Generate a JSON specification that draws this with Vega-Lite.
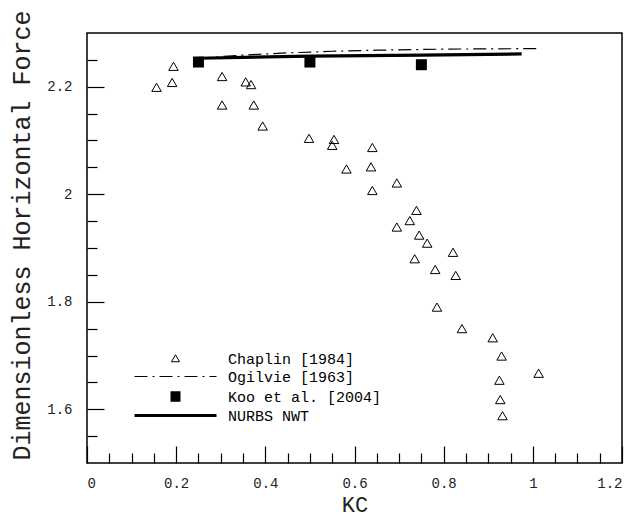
{
  "$schema": "https://vega.github.io/schema/vega-lite/v6.json",
  "autosize": "none",
  "width": 535,
  "height": 430,
  "padding": {"left": 87, "top": 33, "right": 13, "bottom": 56},
  "background": "white",
  "config": {
    "view": {"stroke": "black", "strokeWidth": 1.5},
    "axis": {"labelFont": "Liberation Mono", "labelFontSize": 14, "labelColor": "#222", "titleFont": "Liberation Mono", "titleFontSize": 25, "titleFontWeight": "normal", "titleColor": "#222", "grid": false, "domain": false, "tickColor": "black", "tickWidth": 1.2}
  },
  "data": {"values": [
    {"s": "Chaplin [1984]", "kc": 0.156, "f": 2.199},
    {"s": "Chaplin [1984]", "kc": 0.194, "f": 2.238},
    {"s": "Chaplin [1984]", "kc": 0.191, "f": 2.208},
    {"s": "Chaplin [1984]", "kc": 0.303, "f": 2.219},
    {"s": "Chaplin [1984]", "kc": 0.303, "f": 2.166},
    {"s": "Chaplin [1984]", "kc": 0.356, "f": 2.209},
    {"s": "Chaplin [1984]", "kc": 0.368, "f": 2.204},
    {"s": "Chaplin [1984]", "kc": 0.374, "f": 2.166},
    {"s": "Chaplin [1984]", "kc": 0.394, "f": 2.127},
    {"s": "Chaplin [1984]", "kc": 0.498, "f": 2.104},
    {"s": "Chaplin [1984]", "kc": 0.554, "f": 2.102},
    {"s": "Chaplin [1984]", "kc": 0.550, "f": 2.091},
    {"s": "Chaplin [1984]", "kc": 0.640, "f": 2.087},
    {"s": "Chaplin [1984]", "kc": 0.582, "f": 2.047},
    {"s": "Chaplin [1984]", "kc": 0.637, "f": 2.051},
    {"s": "Chaplin [1984]", "kc": 0.640, "f": 2.007},
    {"s": "Chaplin [1984]", "kc": 0.695, "f": 2.021},
    {"s": "Chaplin [1984]", "kc": 0.739, "f": 1.970},
    {"s": "Chaplin [1984]", "kc": 0.724, "f": 1.951},
    {"s": "Chaplin [1984]", "kc": 0.695, "f": 1.939},
    {"s": "Chaplin [1984]", "kc": 0.745, "f": 1.924},
    {"s": "Chaplin [1984]", "kc": 0.763, "f": 1.909},
    {"s": "Chaplin [1984]", "kc": 0.821, "f": 1.892},
    {"s": "Chaplin [1984]", "kc": 0.735, "f": 1.880},
    {"s": "Chaplin [1984]", "kc": 0.781, "f": 1.860},
    {"s": "Chaplin [1984]", "kc": 0.827, "f": 1.849},
    {"s": "Chaplin [1984]", "kc": 0.785, "f": 1.790},
    {"s": "Chaplin [1984]", "kc": 0.841, "f": 1.750},
    {"s": "Chaplin [1984]", "kc": 0.910, "f": 1.733},
    {"s": "Chaplin [1984]", "kc": 0.930, "f": 1.699},
    {"s": "Chaplin [1984]", "kc": 1.013, "f": 1.667},
    {"s": "Chaplin [1984]", "kc": 0.925, "f": 1.654},
    {"s": "Chaplin [1984]", "kc": 0.927, "f": 1.618},
    {"s": "Chaplin [1984]", "kc": 0.932, "f": 1.588},
    {"s": "Ogilvie [1963]", "kc": 0.25, "f": 2.253},
    {"s": "Ogilvie [1963]", "kc": 0.35, "f": 2.259},
    {"s": "Ogilvie [1963]", "kc": 0.45, "f": 2.263},
    {"s": "Ogilvie [1963]", "kc": 0.55, "f": 2.266},
    {"s": "Ogilvie [1963]", "kc": 0.65, "f": 2.268},
    {"s": "Ogilvie [1963]", "kc": 0.80, "f": 2.270},
    {"s": "Ogilvie [1963]", "kc": 1.01, "f": 2.271},
    {"s": "Koo et al. [2004]", "kc": 0.25, "f": 2.246},
    {"s": "Koo et al. [2004]", "kc": 0.50, "f": 2.246},
    {"s": "Koo et al. [2004]", "kc": 0.75, "f": 2.241},
    {"s": "NURBS NWT", "kc": 0.25, "f": 2.253},
    {"s": "NURBS NWT", "kc": 0.50, "f": 2.257},
    {"s": "NURBS NWT", "kc": 0.75, "f": 2.259},
    {"s": "NURBS NWT", "kc": 0.975, "f": 2.261}
  ]},
  "resolve": {"scale": {"x": "shared", "y": "shared"}, "axis": {"x": "independent", "y": "independent"}},
  "layer": [
    {
      "transform": [{"filter": "datum.s === 'Chaplin [1984]'"}],
      "mark": {"type": "point", "shape": "triangle-up", "filled": false, "size": 90, "strokeWidth": 1, "opacity": 1},
      "encoding": {
        "x": {"field": "kc", "type": "quantitative", "scale": {"domain": [0, 1.2], "nice": false, "zero": false},
          "axis": {"orient": "bottom", "values": [0, 0.2, 0.4, 0.6, 0.8, 1, 1.2], "format": "~g", "ticks": false, "labelPadding": 13, "title": "KC", "titleFontSize": 22, "titleY": 41, "titleBaseline": "middle"}},
        "y": {"field": "f", "type": "quantitative", "scale": {"domain": [1.5, 2.3], "nice": false, "zero": false},
          "axis": {"orient": "left", "values": [1.6, 1.8, 2, 2.2], "format": "~g", "ticks": false, "labelPadding": 15, "title": "Dimensionless Horizontal Force", "titleX": -66, "titleY": 202, "titleAngle": -90, "titleAlign": "center", "titleBaseline": "middle"}},
        "color": {"field": "s", "type": "nominal",
          "scale": {"domain": ["Chaplin [1984]", "Ogilvie [1963]", "Koo et al. [2004]", "NURBS NWT"], "range": ["black", "black", "black", "black"]},
          "legend": {"orient": "none", "legendX": 81, "legendY": 318, "title": null, "padding": 0, "labelFont": "Liberation Mono", "labelFontSize": 15, "labelColor": "black", "labelOffset": 45, "symbolSize": 100, "rowPadding": 2, "symbolOpacity": 1,
            "symbolType": {"expr": "datum.value === 'Chaplin [1984]' ? 'M0,-0.75L0.8,0.65L-0.8,0.65Z' : datum.value === 'Koo et al. [2004]' ? 'M-1,-0.8H1M-1,-0.4H1M-1,0H1M-1,0.4H1M-1,0.8H1' : 'M-8.2,0H8.2'"},
            "symbolFillColor": {"expr": "datum.value === 'Koo et al. [2004]' ? 'black' : 'transparent'"},
            "symbolStrokeColor": "black",
            "symbolStrokeWidth": {"expr": "datum.value === 'NURBS NWT' ? 3.2 : datum.value === 'Koo et al. [2004]' ? 2.3 : 1"},
            "symbolDash": {"expr": "datum.value === 'Ogilvie [1963]' ? [13, 5, 2, 5] : []"}
          }
        }
      }
    },
    {
      "transform": [{"filter": "datum.s === 'Ogilvie [1963]'"}],
      "mark": {"type": "line", "strokeDash": [13, 5, 2, 5], "strokeWidth": 1.2, "color": "black"},
      "encoding": {
        "x": {"field": "kc", "type": "quantitative", "axis": {"orient": "bottom", "values": [0, 0.2, 0.4, 0.6, 0.8, 1, 1.2], "labels": false, "tickSize": -17, "title": null}},
        "y": {"field": "f", "type": "quantitative", "axis": {"orient": "left", "values": [1.6, 1.8, 2, 2.2], "labels": false, "tickSize": -17, "title": null}}
      }
    },
    {
      "transform": [{"filter": "datum.s === 'Koo et al. [2004]'"}],
      "mark": {"type": "point", "shape": "square", "filled": true, "size": 121, "opacity": 1, "color": "black"},
      "encoding": {
        "x": {"field": "kc", "type": "quantitative", "axis": {"orient": "bottom", "values": [0.05, 0.1, 0.15, 0.25, 0.3, 0.35, 0.45, 0.5, 0.55, 0.65, 0.7, 0.75, 0.85, 0.9, 0.95, 1.05, 1.1, 1.15], "labels": false, "tickSize": -10, "title": null}},
        "y": {"field": "f", "type": "quantitative", "axis": {"orient": "left", "values": [1.55, 1.65, 1.7, 1.75, 1.85, 1.9, 1.95, 2.05, 2.1, 2.15, 2.25], "labels": false, "tickSize": -10, "title": null}}
      }
    },
    {
      "transform": [{"filter": "datum.s === 'NURBS NWT'"}],
      "mark": {"type": "line", "strokeWidth": 3.2, "color": "black"},
      "encoding": {
        "x": {"field": "kc", "type": "quantitative", "axis": null},
        "y": {"field": "f", "type": "quantitative", "axis": null}
      }
    }
  ]
}
